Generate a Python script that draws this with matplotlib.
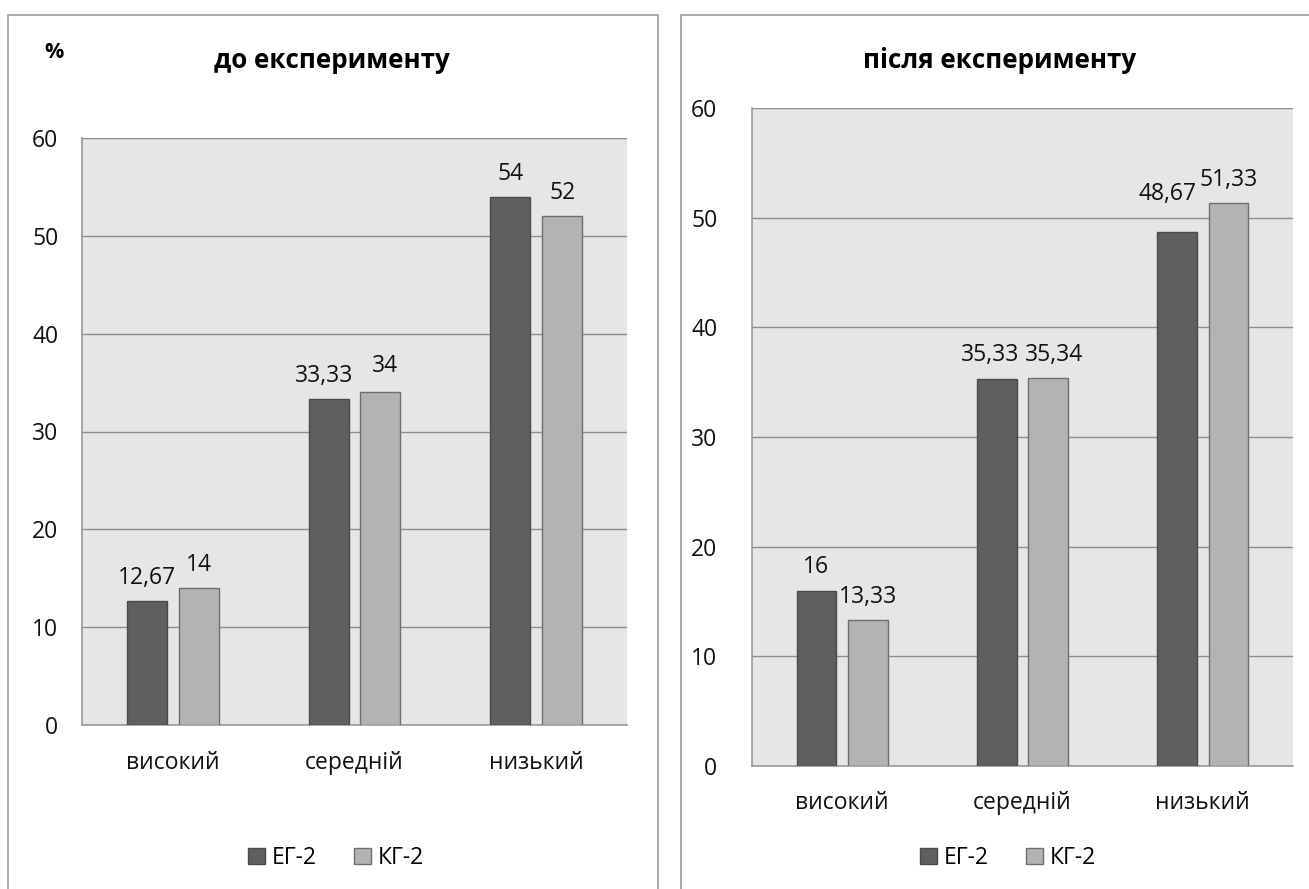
import matplotlib
matplotlib.use("Agg")
import matplotlib.pyplot as plt
from matplotlib.patches import Rectangle, Patch
import numpy as np

plt.rcParams['font.family'] = ['Open Sans', 'DejaVu Sans']

levels = ["високий", "середній", "низький"]
groups = ["ЕГ-2", "КГ-2"]
before_eg = [12.67, 33.33, 54]
before_kg = [14, 34, 52]
after_eg = [16, 35.33, 48.67]
after_kg = [13.33, 35.34, 51.33]

W, H = 1309, 889
dark, light = "#5f5f5f", "#b3b3b3"


def px_axes(fig, x0, y0, x1, y1):
    # axes placed by pixel box (y measured from the top)
    return fig.add_axes([x0 / W, 1 - y1 / H, (x1 - x0) / W, (y1 - y0) / H])


def fmt(v):
    return ("%g" % v).replace(".", ",")


def draw_panel(ax, eg, kg, title_x, title, ypad, xpad, label_shift=None):
    x = np.arange(len(levels))
    w, off = 0.22, 0.143
    b1 = ax.bar(x - off, eg, w, color=dark, edgecolor="#4a4a4a", linewidth=1, zorder=3)
    b2 = ax.bar(x + off, kg, w, color=light, edgecolor="#6e6e6e", linewidth=1, zorder=3)
    label_shift = label_shift or {}
    for i, (bars, vals) in enumerate([(b1, eg), (b2, kg)]):
        for j, (b, v) in enumerate(zip(bars, vals)):
            dx, dy = label_shift.get((i, j), (0, 8))
            ax.annotate(fmt(v), (b.get_x() + b.get_width() / 2, v),
                        xytext=(dx, dy), textcoords="offset points",
                        ha="center", va="bottom", fontsize=16.5, color="#111111")
    ax.set_xlim(-0.5, 2.5)
    ax.set_ylim(0, 60)
    ax.set_yticks(range(0, 61, 10))
    ax.set_xticks(x)
    ax.set_xticklabels(levels)
    ax.set_facecolor("#e6e6e6")
    ax.grid(axis="y", color="#8c8c8c", linewidth=1, zorder=0)
    ax.set_axisbelow(True)
    for s in ["top", "right"]:
        ax.spines[s].set_visible(False)
    for s in ["left", "bottom"]:
        ax.spines[s].set_color("#9a9a9a")
        ax.spines[s].set_linewidth(1.2)
    ax.tick_params(axis="both", length=0, labelsize=16.5, colors="#111111")
    ax.tick_params(axis="y", pad=ypad)
    ax.tick_params(axis="x", pad=xpad)
    fig.text(title_x / W, 1 - 60 / H, title, ha="center", va="center",
             fontsize=18.7, fontweight="bold")


fig = plt.figure(figsize=(W / 100, H / 100), dpi=100)

# panel frames
fig.patches.append(Rectangle((8 / W, -0.05), 650 / W, 1.05 - 15 / H,
                             transform=fig.transFigure, fill=False,
                             edgecolor="#9a9a9a", linewidth=1.2))
fig.patches.append(Rectangle((681 / W, -0.05), 700 / W, 1.05 - 15 / H,
                             transform=fig.transFigure, fill=False,
                             edgecolor="#9a9a9a", linewidth=1.2))

ax1 = px_axes(fig, 82, 138, 627, 725)
draw_panel(ax1, before_eg, before_kg, 332, "до експерименту", 17, 19,
           label_shift={(0, 1): (-3, 8), (1, 1): (3, 10)})
fig.text(54 / W, 1 - 52 / H, "%", ha="center", va="center",
         fontsize=15.5, fontweight="bold")

ax2 = px_axes(fig, 752, 108, 1293, 766)
draw_panel(ax2, after_eg, after_kg, 1000, "після експерименту", 25, 18,
           label_shift={(0, 1): (-4.5, 8), (1, 1): (4.5, 8), (0, 2): (-7, 19)})

handles = [Patch(facecolor=dark, edgecolor="#4a4a4a"),
           Patch(facecolor=light, edgecolor="#6e6e6e")]
for cx in (336, 1008):
    fig.legend(handles, groups, loc="center", bbox_to_anchor=(cx / W, 1 - 858 / H),
               ncol=2, frameon=False, fontsize=16.5, handlelength=0.75,
               handleheight=0.75, handletextpad=0.3, columnspacing=1.6)

fig.savefig("out.png", dpi=100)
